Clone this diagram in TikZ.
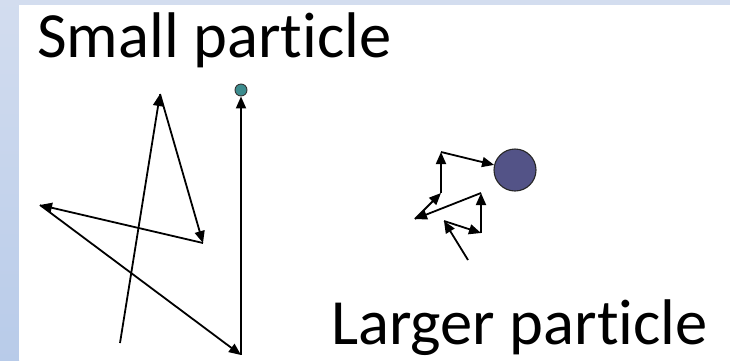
\documentclass[tikz,border=0pt]{standalone}
\usepackage{fontspec}
\setmainfont{Carlito}[Ligatures=NoCommon]
\usepackage{xcolor}
\usetikzlibrary{arrows.meta}
\definecolor{striptop}{RGB}{211,221,239}
\definecolor{stripbot}{RGB}{184,203,233}
\definecolor{dotteal}{RGB}{60,140,142}
\definecolor{ballblue}{RGB}{83,83,135}
\tikzset{
  lbl/.style  = {font=\fontsize{64.5}{70}\selectfont, inner sep=0pt, anchor=base west},
  walk/.style = {-{Triangle[length=12pt,width=10pt]}, line width=1.8pt, draw=black},
  dot/.style  = {circle, draw=black!80, line width=0.9pt, fill=dotteal, minimum size=12pt, inner sep=0pt},
  ball/.style = {circle, draw=black!85, line width=1.1pt, fill=ballblue, minimum size=42pt, inner sep=0pt},
}
\begin{document}
\begin{tikzpicture}[x=1pt,y=-1pt]
  \useasboundingbox (0,0) rectangle (730,360);
  % slide background
  \shade[top color=striptop, bottom color=stripbot] (0,0) rectangle (19,360);
  \fill[striptop] (19,0) rectangle (730,5);
  \fill[white] (19,5) rectangle (730,360);
  % labels
  \node[lbl] (small)  at (37,57)  {Small particle};
  \node[lbl] (larger) at (331,344) {Larger particle};
  % small particle: long jumps
  \node[dot]  (sdot) at (241,90) {};
  \coordinate (s0) at (120,343);
  \coordinate (s1) at (160,94);
  \coordinate (s2) at (203,243);
  \coordinate (s3) at (40,205);
  \coordinate (s4) at (241,355);
  \draw[walk] (s0) -- (s1);
  \draw[walk] (s1) -- (s2);
  \draw[walk] (s2) -- (s3);
  \draw[walk] (s3) -- (s4);
  \draw[walk] (s4) -- (sdot);
  % larger particle: short jumps
  \node[ball] (lball) at (515,170) {};
  \coordinate (l0) at (468,260);
  \coordinate (l1) at (444,221);
  \coordinate (l2) at (481,233);
  \coordinate (l3) at (481,193);
  \coordinate (l4) at (415,219);
  \coordinate (l5) at (441,193);
  \coordinate (l6) at (441,152);
  \draw[walk] (l0) -- (l1);
  \draw[walk] (l1) -- (l2);
  \draw[walk] (l2) -- (l3);
  \draw[walk] (l3) -- (l4);
  \draw[walk] (l4) -- (l5);
  \draw[walk] (l5) -- (l6);
  \draw[walk] (l6) -- (lball);
\end{tikzpicture}
\end{document}
